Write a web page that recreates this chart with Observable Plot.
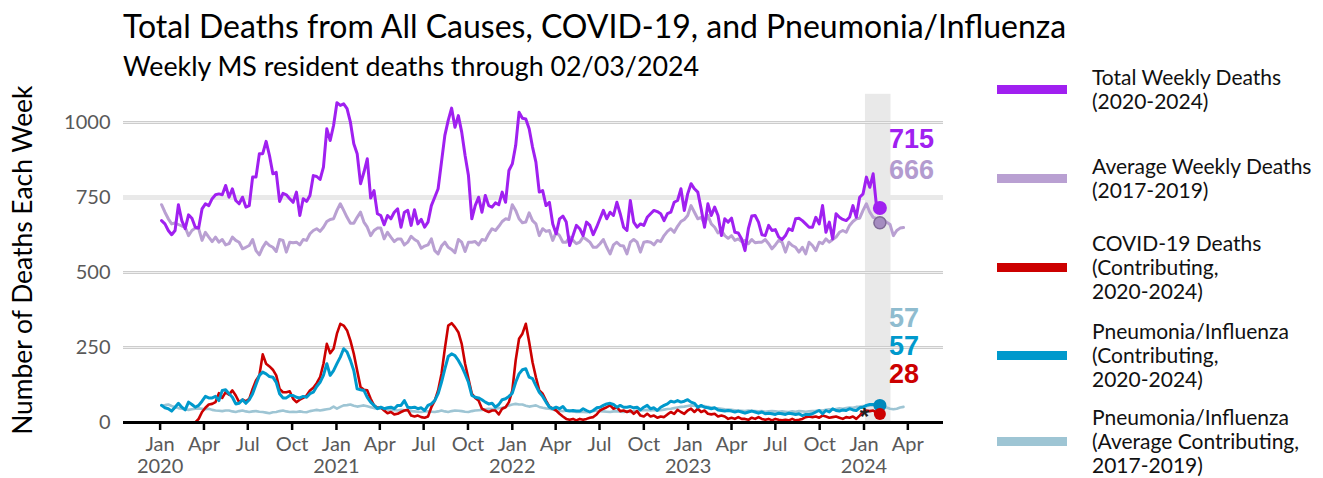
<!DOCTYPE html>
<html><head><meta charset="utf-8">
<script src="https://cdn.jsdelivr.net/npm/d3@7"></script>
<script src="https://cdn.jsdelivr.net/npm/@observablehq/plot@0.6"></script>
<style>
body{margin:0;background:#fff;}
#wrap{position:relative;width:1323px;height:478px;overflow:hidden;font-family:Lato,"Open Sans",sans-serif;color:#000;}
#chart{position:absolute;left:0;top:0;}
.txt{position:absolute;white-space:nowrap;line-height:1;}
#title{left:123px;top:10px;font-size:32px;}
#subtitle{left:123px;top:53px;font-size:26.8px;}
#ylabel{left:-178px;top:247px;width:400px;text-align:center;font-size:26.4px;transform:rotate(-90deg);transform-origin:200px 13.2px;}
.sw{position:absolute;left:997px;width:70px;height:9px;}
.lg{position:absolute;left:1092px;font-size:21px;white-space:nowrap;color:#111;}
</style></head><body>
<div id="wrap">
  <div id="title" class="txt">Total Deaths from All Causes, COVID-19, and Pneumonia/Influenza</div>
  <div id="subtitle" class="txt">Weekly MS resident deaths through 02/03/2024</div>
  <div id="ylabel" class="txt">Number of Deaths Each Week</div>
  <div id="chart"></div>
  <div id="legend"></div>
</div>
<script>
// Weekly values, weeks ending Saturday, first week ending 2020-01-04
const firstWeek = "2020-01-04";

const totalDeaths = [673,662,640,626,640,726,673,646,692,681,
651,648,712,729,723,746,759,762,759,790,
751,779,740,729,751,718,723,818,818,896,
896,937,890,829,834,737,764,759,746,734,
768,690,746,737,757,823,820,810,851,979,
940,990,1066,1057,1062,1046,1001,929,896,796,
834,879,748,773,696,690,659,690,679,701,
712,
651,701,707,657,709,662,677,651,668,723,
751,779,868,957,1007,1048,984,1023,968,890,
823,679,723,751,701,757,723,718,732,726,
768,734,840,862,923,1034,1014,1012,979,918,
868,768,773,723,734,662,629,679,688,668,
590,623,657,646,623,668,657,626,651,679,
707,679,701,690,734,696,651,640,740,668,
651,662,657,684,
696,707,703,696,673,696,701,734,740,779,
707,762,796,779,768,712,651,729,690,718,
690,623,679,668,681,634,632,612,573,646,
688,690,668,626,623,657,640,643,618,
610,623,646,640,679,681,673,662,651,651,
684,662,723,634,668,612,696,684,677,673,
684,723,684,751,762,818,784,829,
720,715];

const avgDeaths = [726,701,679,662,665,660,655,651,623,640,
648,646,607,634,618,603,618,601,610,592,
596,618,607,601,579,584,590,610,573,559,
584,601,590,584,570,610,607,568,601,599,
601,592,610,607,629,640,646,637,651,670,
677,679,707,729,707,684,664,664,684,701,
668,651,623,640,648,648,612,634,618,603,
612,
612,592,601,621,610,603,581,588,592,612,
573,562,588,601,584,577,566,610,601,570,
601,601,603,592,610,607,629,646,640,654,
670,679,677,726,707,679,666,668,699,673,
662,623,646,637,640,607,634,623,601,601,
618,607,596,601,618,610,601,584,584,596,
610,584,562,592,601,590,588,562,601,610,
601,568,601,603,
601,592,607,603,623,637,646,634,654,670,
677,690,723,701,679,684,662,690,662,651,
632,640,623,614,623,607,612,603,607,596,
610,599,601,601,610,596,579,592,607,
601,568,601,590,584,568,584,562,601,590,
573,601,596,612,601,610,618,634,640,634,
657,670,679,681,707,729,701,684,
680,666,676,668,660,623,640,648,650];

const covidDeaths = [0,0,0,0,0,0,0,0,0,0,
0,12,35,49,60,62,68,98,82,101,
93,107,90,68,76,71,79,112,140,157,
227,196,187,176,157,112,101,101,104,79,
68,76,82,90,107,116,131,151,196,262,
231,246,296,329,323,307,273,229,173,118,
109,107,79,57,49,51,40,31,35,27,
29,
35,40,42,23,20,23,18,16,20,51,
73,107,162,246,323,331,318,301,262,196,
146,96,82,73,46,40,35,40,40,27,
46,51,68,107,207,279,296,329,268,201,
151,107,96,73,53,46,40,29,20,12,
9,12,7,12,9,12,16,18,27,40,
46,51,57,46,51,38,40,35,40,29,
38,23,20,29,
20,23,16,20,18,27,35,29,42,35,
29,40,46,35,46,35,40,29,27,29,
20,23,20,12,16,12,18,12,12,9,
16,12,18,12,9,12,7,12,9,
7,9,7,12,7,9,12,18,20,18,
20,16,23,20,16,18,20,16,12,18,
16,20,12,23,35,40,38,40,
32,28];

const pneumoFluDeaths = [57,49,46,38,51,64,51,42,68,60,
51,57,71,87,82,82,87,73,107,109,
96,84,62,64,76,64,76,96,127,157,
168,162,153,151,134,96,82,82,90,90,
84,82,87,84,96,101,120,134,157,196,
157,173,196,218,246,235,207,173,112,109,
107,84,68,57,46,51,46,49,51,46,
57,
57,73,51,49,51,46,49,40,57,62,
73,96,134,179,220,229,223,207,187,162,
134,90,84,82,76,68,62,64,51,60,
76,79,87,98,134,162,176,179,151,146,
123,101,87,68,51,46,51,46,53,40,
38,40,38,38,46,40,35,40,49,51,
57,62,64,60,51,57,51,51,53,49,
51,42,51,57,
46,49,40,51,57,62,71,68,73,68,
71,76,68,64,51,57,51,49,46,49,
42,40,38,40,38,35,38,35,31,35,
38,35,31,35,29,31,29,27,31,
29,27,31,29,27,29,23,27,27,29,
35,40,29,40,35,46,40,38,42,40,
46,42,40,49,51,57,60,60,
57,57];

const pneumoFluAvg = [57,58,60,55,51,48,46,44,42,44,
46,47,46,44,46,42,40,39,38,40,
40,37,35,38,40,37,35,37,38,36,
35,33,31,34,35,38,40,37,35,36,
35,37,35,34,38,40,42,40,42,44,
46,53,46,52,57,58,60,56,53,55,
57,54,51,48,46,47,46,43,40,42,
40,
42,41,40,38,37,36,35,37,37,36,
35,37,40,37,35,38,40,39,38,36,
35,38,40,41,42,44,46,45,46,48,
49,52,57,60,62,60,60,56,53,55,
57,52,49,47,46,43,40,39,38,39,
40,37,35,36,35,34,35,38,40,38,
37,36,35,37,38,36,35,37,35,38,
40,40,41,42,
40,42,40,41,43,45,46,48,50,52,
53,55,57,56,54,53,55,52,50,48,
47,46,44,43,42,41,40,39,38,40,
39,38,37,38,36,37,38,37,36,
37,36,35,37,36,38,37,36,37,38,
39,41,40,42,44,43,45,47,46,48,
50,49,52,53,55,54,57,57,
57,57,55,50,46,44,46,50,52];

const seriesNames = ["Total Weekly Deaths", "Average Weekly Deaths", "COVID-19 Deaths", "Pneumonia/Influenza", "Pneumonia/Influenza Average"];
const seriesColors = ["#a020f0", "#b9a0d2", "#cc0000", "#0099cc", "#9ec5d4"];
const legendLabels = [
  ["Total Weekly Deaths", "(2020-2024)"],
  ["Average Weekly Deaths", "(2017-2019)"],
  ["COVID-19 Deaths", "(Contributing,", "2020-2024)"],
  ["Pneumonia/Influenza", "(Contributing,", "2020-2024)"],
  ["Pneumonia/Influenza", "(Average Contributing,", "2017-2019)"]
];
const yTicks = [0, 250, 500, 750, 1000];
const xDomain = ["2019-10-17", "2024-06-14"];
const xTickRange = ["2020-01-01", "2024-04-02"];
const recentWindow = ["2024-01-04", "2024-02-26"];
const asteriskDate = "2024-01-06";
const reportDate = "2024-02-03";

// ---- build tables ----
const t0 = new Date(firstWeek + "T00:00:00Z").getTime();
const WEEK = 7 * 864e5;
const toRows = (arr) => arr.map((v, i) => ({date: new Date(t0 + i * WEEK), value: v}));
const seriesData = [totalDeaths, avgDeaths, covidDeaths, pneumoFluDeaths, pneumoFluAvg].map(toRows);
const lastDate = new Date(reportDate + "T00:00:00Z");
const lastIdx = totalDeaths.length - 1;
const d = (s) => new Date(s + "T00:00:00Z");
const tickDates = d3.utcMonths(d(xTickRange[0]), d(xTickRange[1]), 3);
const astIdx = Math.round((d(asteriskDate).getTime() - t0) / WEEK);

const fmtMonth = d3.utcFormat("%b");
const drawOrder = [1, 4, 2, 3, 0];
const widths = [3, 3, 2.6, 3, 2.6];

const endLabels = [
  {text: String(totalDeaths[lastIdx]), color: "#a020f0", dy: 47},
  {text: String(avgDeaths[lastIdx]), color: "#b39bcf", dy: 78},
  {text: String(pneumoFluAvg[lastIdx]), color: "#8fbccf", dy: 226},
  {text: String(pneumoFluDeaths[lastIdx]), color: "#0099cc", dy: 254},
  {text: String(covidDeaths[lastIdx]), color: "#cc0000", dy: 282}
];

const marks = [
  Plot.rect([recentWindow], {x1: (w) => d(w[0]), x2: (w) => d(w[1]), y1: 0, y2: 1094, fill: "#e9e9e9"}),
  Plot.ruleY([250, 500, 1000], {stroke: "#cdcdcd", strokeWidth: 3}),
  Plot.ruleY([250, 500, 1000], {stroke: "#f0f0f0", strokeWidth: 1}),
  Plot.ruleY([750], {stroke: "#e9e9e9", strokeWidth: 5}),
  Plot.axisY({ticks: yTicks, tickSize: 0, tickPadding: 13, tickFormat: d3.format("d"), fill: "#595959", fontSize: 20, label: null}),
  Plot.axisX({ticks: tickDates, tickSize: 8, tickPadding: 5, stroke: "#000", strokeWidth: 2.5,
    tickFormat: (t) => t.getUTCMonth() === 0 ? fmtMonth(t) + "\n" + t.getUTCFullYear() : fmtMonth(t),
    fill: "#595959", fontSize: 20, lineHeight: 1.1, label: null})
];
for (const i of drawOrder) {
  marks.push(Plot.lineY(seriesData[i], {x: "date", y: "value", stroke: seriesColors[i], strokeWidth: widths[i], strokeLinejoin: "round"}));
}
marks.push(Plot.ruleY([0], {stroke: "#000", strokeWidth: 3}));
marks.push(Plot.text([seriesData[2][astIdx]], {x: "date", y: "value", text: () => "*", fontSize: 24, fontWeight: "bold", fill: "#222", dy: 7, dx: -2, fontFamily: "Liberation Sans"}));
marks.push(Plot.dot([seriesData[1][lastIdx]], {x: "date", y: "value", r: 6, fill: "#a58cc0", stroke: "#7f6a96", strokeWidth: 1.5}));
marks.push(Plot.dot([seriesData[0][lastIdx]], {x: "date", y: "value", r: 7, fill: "#a020f0"}));
marks.push(Plot.dot([seriesData[3][lastIdx]], {x: "date", y: "value", r: 6.5, fill: "#0088bb"}));
marks.push(Plot.dot([seriesData[2][lastIdx]], {x: "date", y: "value", r: 6, fill: "#cc0000"}));
for (const l of endLabels) {
  marks.push(Plot.text([l], {x: () => lastDate, frameAnchor: "top", text: "text", fill: l.color, dx: 9, dy: l.dy,
    textAnchor: "start", lineAnchor: "middle", fontSize: 27, fontWeight: "bold", fontFamily: "Liberation Sans"}));
}

const chart = Plot.plot({
  width: 960, height: 478,
  marginLeft: 123, marginRight: 17, marginTop: 92, marginBottom: 56,
  x: {type: "utc", domain: xDomain.map(d)},
  y: {domain: [0, 1100]},
  style: {fontFamily: "Lato, 'Open Sans', sans-serif", fontSize: "20px", background: "transparent", overflow: "visible"},
  marks
});
document.getElementById("chart").appendChild(chart);

// legend
const legend = document.getElementById("legend");
const swatchY = [89, 178, 267, 355, 441];
const lineH = 24;
legendLabels.forEach((lines, i) => {
  const sw = document.createElement("div");
  sw.className = "sw";
  sw.style.top = (swatchY[i] - 4.5) + "px";
  sw.style.background = seriesColors[i];
  legend.appendChild(sw);
  const tx = document.createElement("div");
  tx.className = "lg";
  tx.style.lineHeight = lineH + "px";
  tx.style.top = (swatchY[i] - (lines.length - 1) * lineH / 2 - lineH / 2) + "px";
  tx.innerHTML = lines.join("<br>");
  legend.appendChild(tx);
});
</script>
</body></html>
